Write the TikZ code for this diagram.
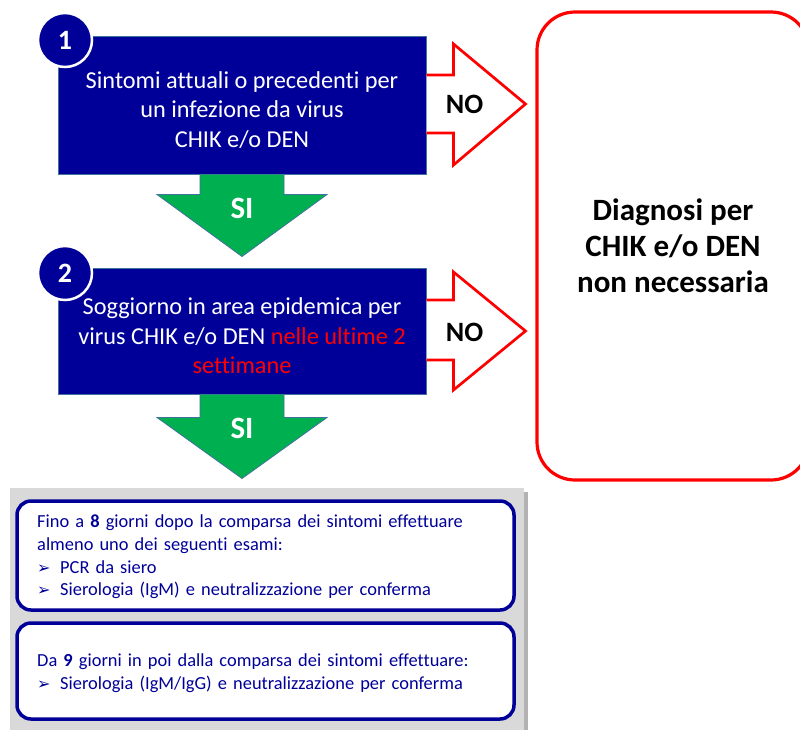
\documentclass[tikz,border=0pt]{standalone}
\usepackage{fontspec}
\setmainfont[Ligatures=NoCommon]{Carlito}
\newfontfamily\arrowfont{DejaVu Sans}
\usepackage{tikz}
\usetikzlibrary{calc}

\definecolor{boxblue}{HTML}{000099}
\definecolor{edgeblue}{HTML}{41719C}
\definecolor{sigreen}{HTML}{00B050}
\definecolor{panelgray}{HTML}{D9D9D9}

\newcommand{\esamibullet}{\makebox[23pt][l]{\arrowfont\fontsize{16}{16}\selectfont ➢}}

\begin{document}
\begin{tikzpicture}[x=1pt, y=-1pt,
    stepbox/.style={rectangle, fill=boxblue, draw=edgeblue, line width=1pt, minimum width=368pt, inner sep=0pt},
    boxtext/.style={text=white, align=center, inner sep=0pt, font=\fontsize{24.3}{29.5}\selectfont},
    numcircle/.style={circle, fill=boxblue, draw=white, line width=2.5pt, minimum size=54pt, inner sep=0pt, text=white, font=\fontsize{28}{30}\selectfont\bfseries},
    siarrow/.style={fill=sigreen, draw=edgeblue, line width=0.8pt, line join=miter},
    noarrow/.style={fill=white, draw=red, line width=2.7pt, line join=miter},
    silabel/.style={text=white, font=\fontsize{31}{31}\selectfont\bfseries},
    nolabel/.style={text=black, font=\fontsize{28}{28}\selectfont\bfseries},
    esamibox/.style={rectangle, rounded corners=14pt, draw=boxblue, line width=3.5pt, fill=white, minimum width=497pt},
    esamitext/.style={anchor=west, align=left, text width=470pt, inner sep=0pt, text=boxblue, font=\fontsize{18.4}{22.7}\selectfont}
]

    \path[fill=white, use as bounding box] (0,0) rectangle (800,729);
    \clip (0,0) rectangle (800,729);

    % Grey panel with shadow
    \fill[black!30] (14,492) rectangle (528,760);
    \node[fill=panelgray, minimum width=514pt, minimum height=272pt, inner sep=0pt, anchor=north west] (panel) at (10,488) {};

    % Exams
    \node[esamibox, minimum height=109pt] (esami1) at (265.5,555.5) {};
    \node[esamitext] (e1) at (37,557) {Fino a \textbf{8} giorni dopo la comparsa dei sintomi effettuare\\almeno uno dei seguenti esami:\\\esamibullet PCR da siero\\\esamibullet Sierologia (IgM) e neutralizzazione per conferma};

    \node[esamibox, minimum height=96pt] (esami2) at (265.5,671) {};
    \node[esamitext] (e2) at (37,673) {Da \textbf{9} giorni in poi dalla comparsa dei sintomi effettuare:\\\esamibullet Sierologia (IgM/IgG) e neutralizzazione per conferma};

    % Questions
    \node[stepbox, minimum height=138pt] (q1) at (242,105) {};
    \node[boxtext] (t1) at ($(q1.center)+(0,5)$) {Sintomi attuali o precedenti per\\un infezione da virus\\CHIK e/o DEN};

    \node[stepbox, minimum height=126pt] (q2) at (242,331) {};
    \node[boxtext] (t2) at ($(q2.center)+(0,5)$) {Soggiorno in area epidemica per\\virus CHIK e/o DEN \textcolor{red}{nelle ultime 2}\\\textcolor{red}{settimane}};

    % Outcome
    \node[draw=red, line width=3.2pt, rounded corners=38pt, minimum width=272pt, minimum height=468pt, align=center, font=\fontsize{31}{36}\selectfont\bfseries] (diag) at (673,246) {Diagnosi per\\CHIK e/o DEN\\non necessaria};

    % NO arrows
    \draw[noarrow] ($(q1.east)+(0,-30)$) -- ++(27,0) -- ++(0,-31) -- ($(q1.east)+(99,-1)$) -- ($(q1.east)+(27,60)$) -- ++(0,-32) -- ($(q1.east)+(0,28)$);
    \draw[noarrow] ($(q2.east)+(0,-31)$) -- ++(27,0) -- ++(0,-28) -- ($(q2.east)+(99,0)$) -- ($(q2.east)+(27,59)$) -- ++(0,-30) -- ($(q2.east)+(0,29)$);

    % SI arrows
    \filldraw[siarrow] ($(q1.south)+(-42,0)$) -- ++(0,20) -- ++(-43,0) -- ($(q1.south)+(0,82)$) -- ($(q1.south)+(85,20)$) -- ++(-43,0) -- ($(q1.south)+(42,0)$);
    \filldraw[siarrow] ($(q2.south)+(-42,0)$) -- ++(0,23) -- ++(-43,0) -- ($(q2.south)+(0,84)$) -- ($(q2.south)+(85,23)$) -- ++(-43,0) -- ($(q2.south)+(42,0)$);

    % Labels
    \node[silabel] (si1) at ($(q1.south)+(0,34)$) {SI};
    \node[silabel] (si2) at ($(q2.south)+(0,34)$) {SI};
    \node[nolabel] (no1) at ($(q1.east)+(38,-1)$) {NO};
    \node[nolabel] (no2) at ($(q2.east)+(38,1)$) {NO};

    % Step numbers
    \node[numcircle] (n1) at (65,40) {1};
    \node[numcircle] (n2) at (65,273) {2};

\end{tikzpicture}
\end{document}
